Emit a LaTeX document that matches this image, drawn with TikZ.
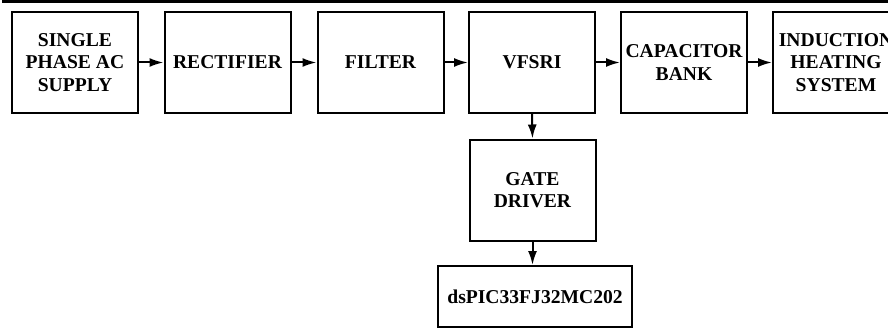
\documentclass[tikz,border=0pt]{standalone}
\usepackage{fontspec}
\setmainfont{Liberation Serif}
\usetikzlibrary{arrows.meta}
\begin{document}
\begin{tikzpicture}[x=1pt,y=-1pt,
  blk/.style={draw=black,line width=2pt,minimum width=126pt,minimum height=101pt,inner sep=0pt,align=center,
    font=\bfseries\fontsize{19.6}{22.5}\selectfont},
  conn/.style={line width=2pt,-{Latex[length=14pt,width=9pt]}}]
\useasboundingbox (0,0) rectangle (888,329);
\clip (0,0) rectangle (888,329);
\fill[black] (2,0) rectangle (888,3);
\node[blk] (ac) at (75,62.5) {SINGLE\\PHASE AC\\SUPPLY};
\node[blk] (rect) at (227.5,62.5) {RECTIFIER};
\node[blk] (filt) at (380.5,62.5) {FILTER};
\node[blk] (vfsri) at (532,62.5) {VFSRI};
\node[blk] (cap) at (684,62.5) {CAPACITOR\\BANK};
\node[blk] (ih) at (836,62.5) {INDUCTION\\HEATING\\SYSTEM};
\node[blk] (gate) at (532.5,190) {GATE\\DRIVER};
\node[blk,minimum width=194pt,minimum height=61pt] (dspic) at (535,296.5) {dsPIC33FJ32MC202};
\draw[conn] (ac) -- (rect);
\draw[conn] (rect) -- (filt);
\draw[conn] (filt) -- (vfsri);
\draw[conn] (vfsri) -- (cap);
\draw[conn] (cap) -- (ih);
\draw[conn] (vfsri.south) -- (gate.north);
\draw[conn] (gate.south) -- (gate.south |- dspic.north);
\end{tikzpicture}
\end{document}
